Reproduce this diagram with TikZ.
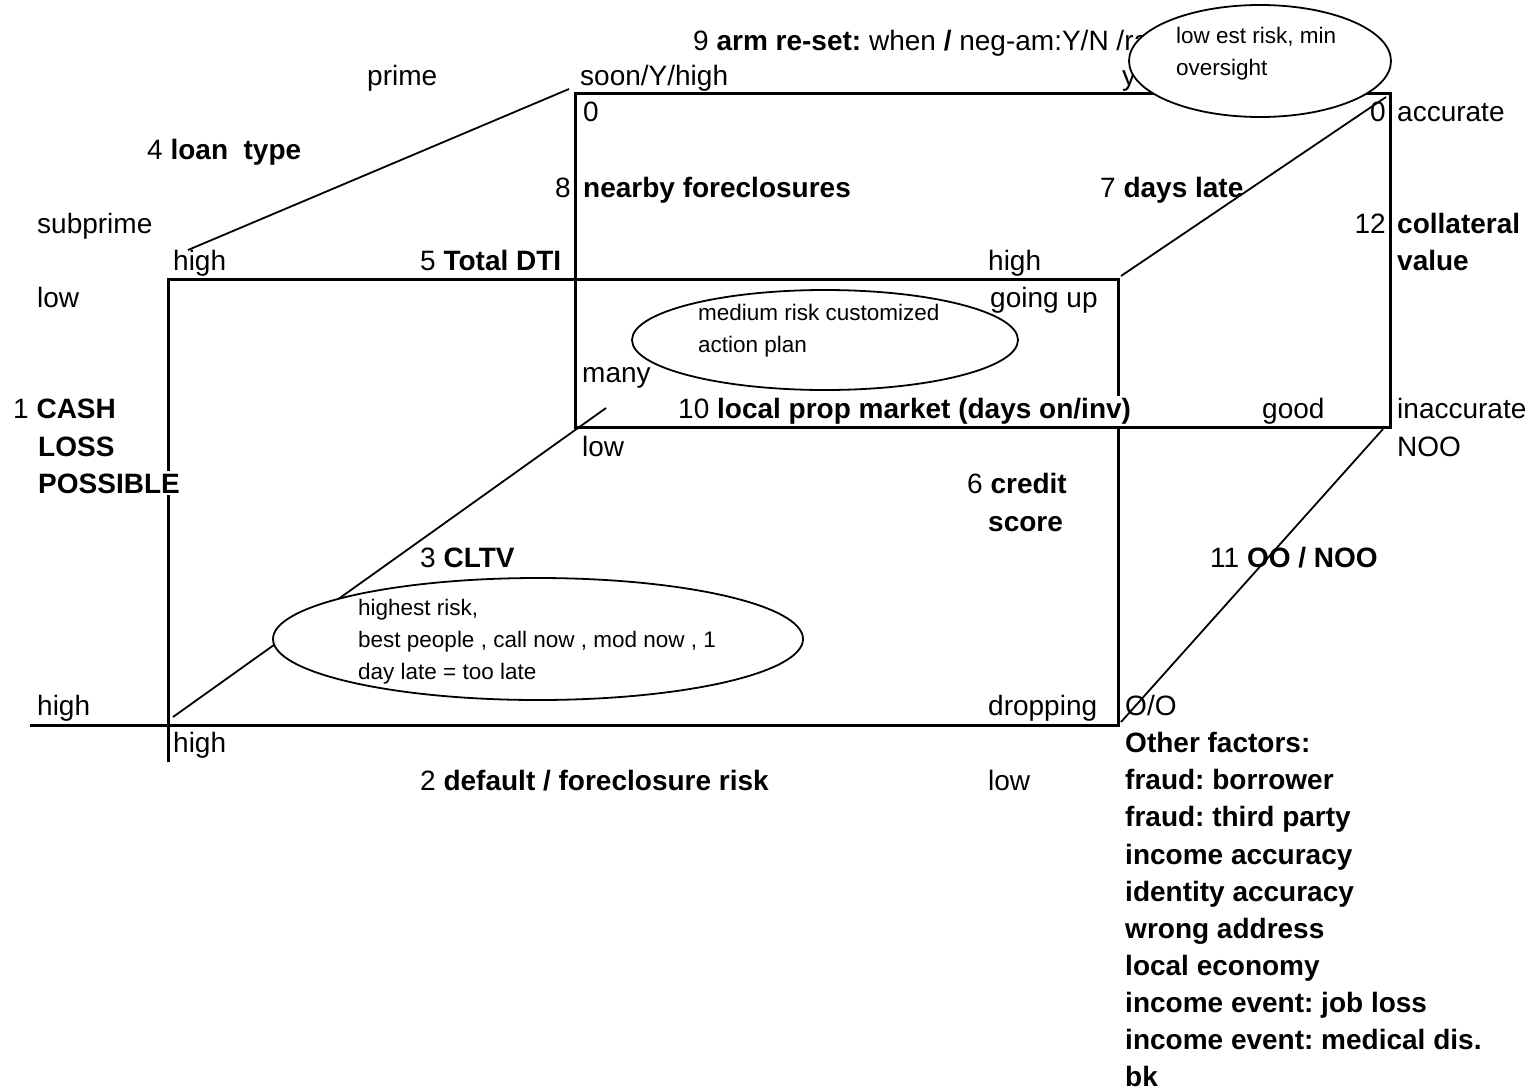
\documentclass[tikz,border=0pt]{standalone}
\usepackage{fontspec}
\setmainfont{Liberation Sans}
\usetikzlibrary{shapes.geometric}
\frenchspacing
\begin{document}
\begin{tikzpicture}[x=1pt,y=-1pt,
  lbl/.style={anchor=base west,inner sep=0pt,font=\fontsize{28}{37.5}\selectfont},
  lble/.style={anchor=base east,inner sep=0pt,font=\fontsize{28}{37.5}\selectfont},
  bld/.style={lbl,font=\fontsize{28}{37.5}\selectfont\bfseries},
  mask/.style={fill=white,inner ysep=2pt,inner xsep=0pt},
  frame/.style={line width=3pt},
  diag/.style={line width=1.8pt},
  bubble/.style={ellipse,draw,line width=1.8pt,fill=white,inner sep=0pt},
  bubtext/.style={anchor=west,inner sep=0pt,align=left,font=\fontsize{22.5}{32}\selectfont}
]
\useasboundingbox (0,0) rectangle (1533,1090);

% corners of the front and back faces
\coordinate (ftl) at (168,279);
\coordinate (ftr) at (1118,279);
\coordinate (fbr) at (1118,725);
\coordinate (fbl) at (168,725);
\coordinate (btl) at (575,93);
\coordinate (btr) at (1390,93);
\coordinate (bbr) at (1390,427);
\coordinate (bbl) at (575,427);
\coordinate (axl) at (30,725);
\coordinate (axd) at (168,762);

% ends of the depth edges
\coordinate (d1a) at (188,250);  \coordinate (d1b) at (569,89);
\coordinate (d2a) at (1121,276); \coordinate (d2b) at (1386,97);
\coordinate (d3a) at (1121,722); \coordinate (d3b) at (1383,429);
\coordinate (d4a) at (173,717);  \coordinate (d4b) at (606,408);

% faces
\draw[frame] (btl) rectangle (bbr);
\draw[frame] (axd) -- (ftl) -- (ftr) -- (fbr) -- (axl);

% depth edges
\draw[diag] (d1a) -- (d1b);
\draw[diag] (d2a) -- (d2b);
\draw[diag] (d3a) -- (d3b);
\draw[diag] (d4a) -- (d4b);

% labels partly hidden by the top bubble
\node[lbl] (t9) at (693,50) {9 \textbf{arm re-set:} when \textbf{/} neg-am:Y/N /rat};
\node[lbl] (ty) at (1122,85) {y};

% bubbles
\node[bubble,minimum width=262pt,minimum height=112pt] (e1) at (1260,61) {};
\node[bubtext] (e1t) at (1176,54) {low est risk, min\\oversight};
\node[bubble,minimum width=386pt,minimum height=100pt] (e2) at (825,340) {};
\node[bubtext] (e2t) at (698,331) {medium risk customized\\action plan};
\node[bubble,minimum width=530pt,minimum height=122pt] (e3) at (538,639) {};
\node[bubtext] (e3t) at (358,642) {highest risk,\\best people , call now , mod now , 1\\day late = too late};

% axis labels
\node[lbl] (tprime) at (367,85) {prime};
\node[lbl] (tsoon) at (580,85) {soon/Y/high};
\node[lbl] (tz1) at (583,121) {0};
\node[lble] (tz2) at (1386,121) {0};
\node[lbl] (tacc) at (1397,121) {accurate};
\node[lbl] (t4) at (147,159) {4 \textbf{loan\ \ type}};
\node[lble] (t8) at (571,197) {8};
\node[bld] (t8b) at (583,197) {nearby foreclosures};
\node[lbl] (t7) at (1100,197) {7 \textbf{days late}};
\node[lbl] (tsub) at (37,233) {subprime};
\node[lble] (t12) at (1386,233) {12};
\node[bld] (t12b) at (1397,233) {collateral};
\node[lbl] (thi1) at (173,270) {high};
\node[lbl] (t5) at (420,270) {5 \textbf{Total DTI}};
\node[lbl] (thi2) at (988,270) {high};
\node[bld] (t12c) at (1397,270) {value};
\node[lbl] (tlow1) at (37,307) {low};
\node[lbl] (tup) at (990,307) {going up};
\node[lbl] (tmany) at (582,382) {many};
\node[lbl] (t1) at (13,418) {1 \textbf{CASH}};
\node[lbl,mask] (t10) at (678,418) {10 \textbf{local prop market (days on/inv)}};
\node[lbl] (tgood) at (1262,418) {good};
\node[lbl] (tinacc) at (1397,418) {inaccurate};
\node[bld] (t1b) at (38,456) {LOSS};
\node[lbl] (tlow2) at (582,456) {low};
\node[lbl] (tnoo) at (1397,456) {NOO};
\node[bld,mask] (t1c) at (38,493) {POSSIBLE};
\node[lbl] (t6) at (967,493) {6 \textbf{credit}};
\node[bld] (t6b) at (988,531) {score};
\node[lbl] (t3) at (420,567) {3 \textbf{CLTV}};
\node[lbl] (t11) at (1210,567) {11 \textbf{OO / NOO}};
\node[lbl] (thi3) at (37,715) {high};
\node[lbl] (tdrop) at (988,715) {dropping};
\node[lbl] (too) at (1125,715) {O/O};
\node[lbl] (thi4) at (173,752) {high};
\node[lbl] (t2) at (420,790) {2 \textbf{default / foreclosure risk}};
\node[lbl] (tlow3) at (988,790) {low};

% further factors
\node[bld] (f0) at (1125,752) {Other factors:};
\node[bld] (f1) at (1125,789) {fraud: borrower};
\node[bld] (f2) at (1125,826) {fraud: third party};
\node[bld] (f3) at (1125,864) {income accuracy};
\node[bld] (f4) at (1125,901) {identity accuracy};
\node[bld] (f5) at (1125,938) {wrong address};
\node[bld] (f6) at (1125,975) {local economy};
\node[bld] (f7) at (1125,1012) {income event: job loss};
\node[bld] (f8) at (1125,1049) {income event: medical dis.};
\node[bld,text depth=0pt] (f9) at (1125,1086) {bk};
\end{tikzpicture}
\end{document}
